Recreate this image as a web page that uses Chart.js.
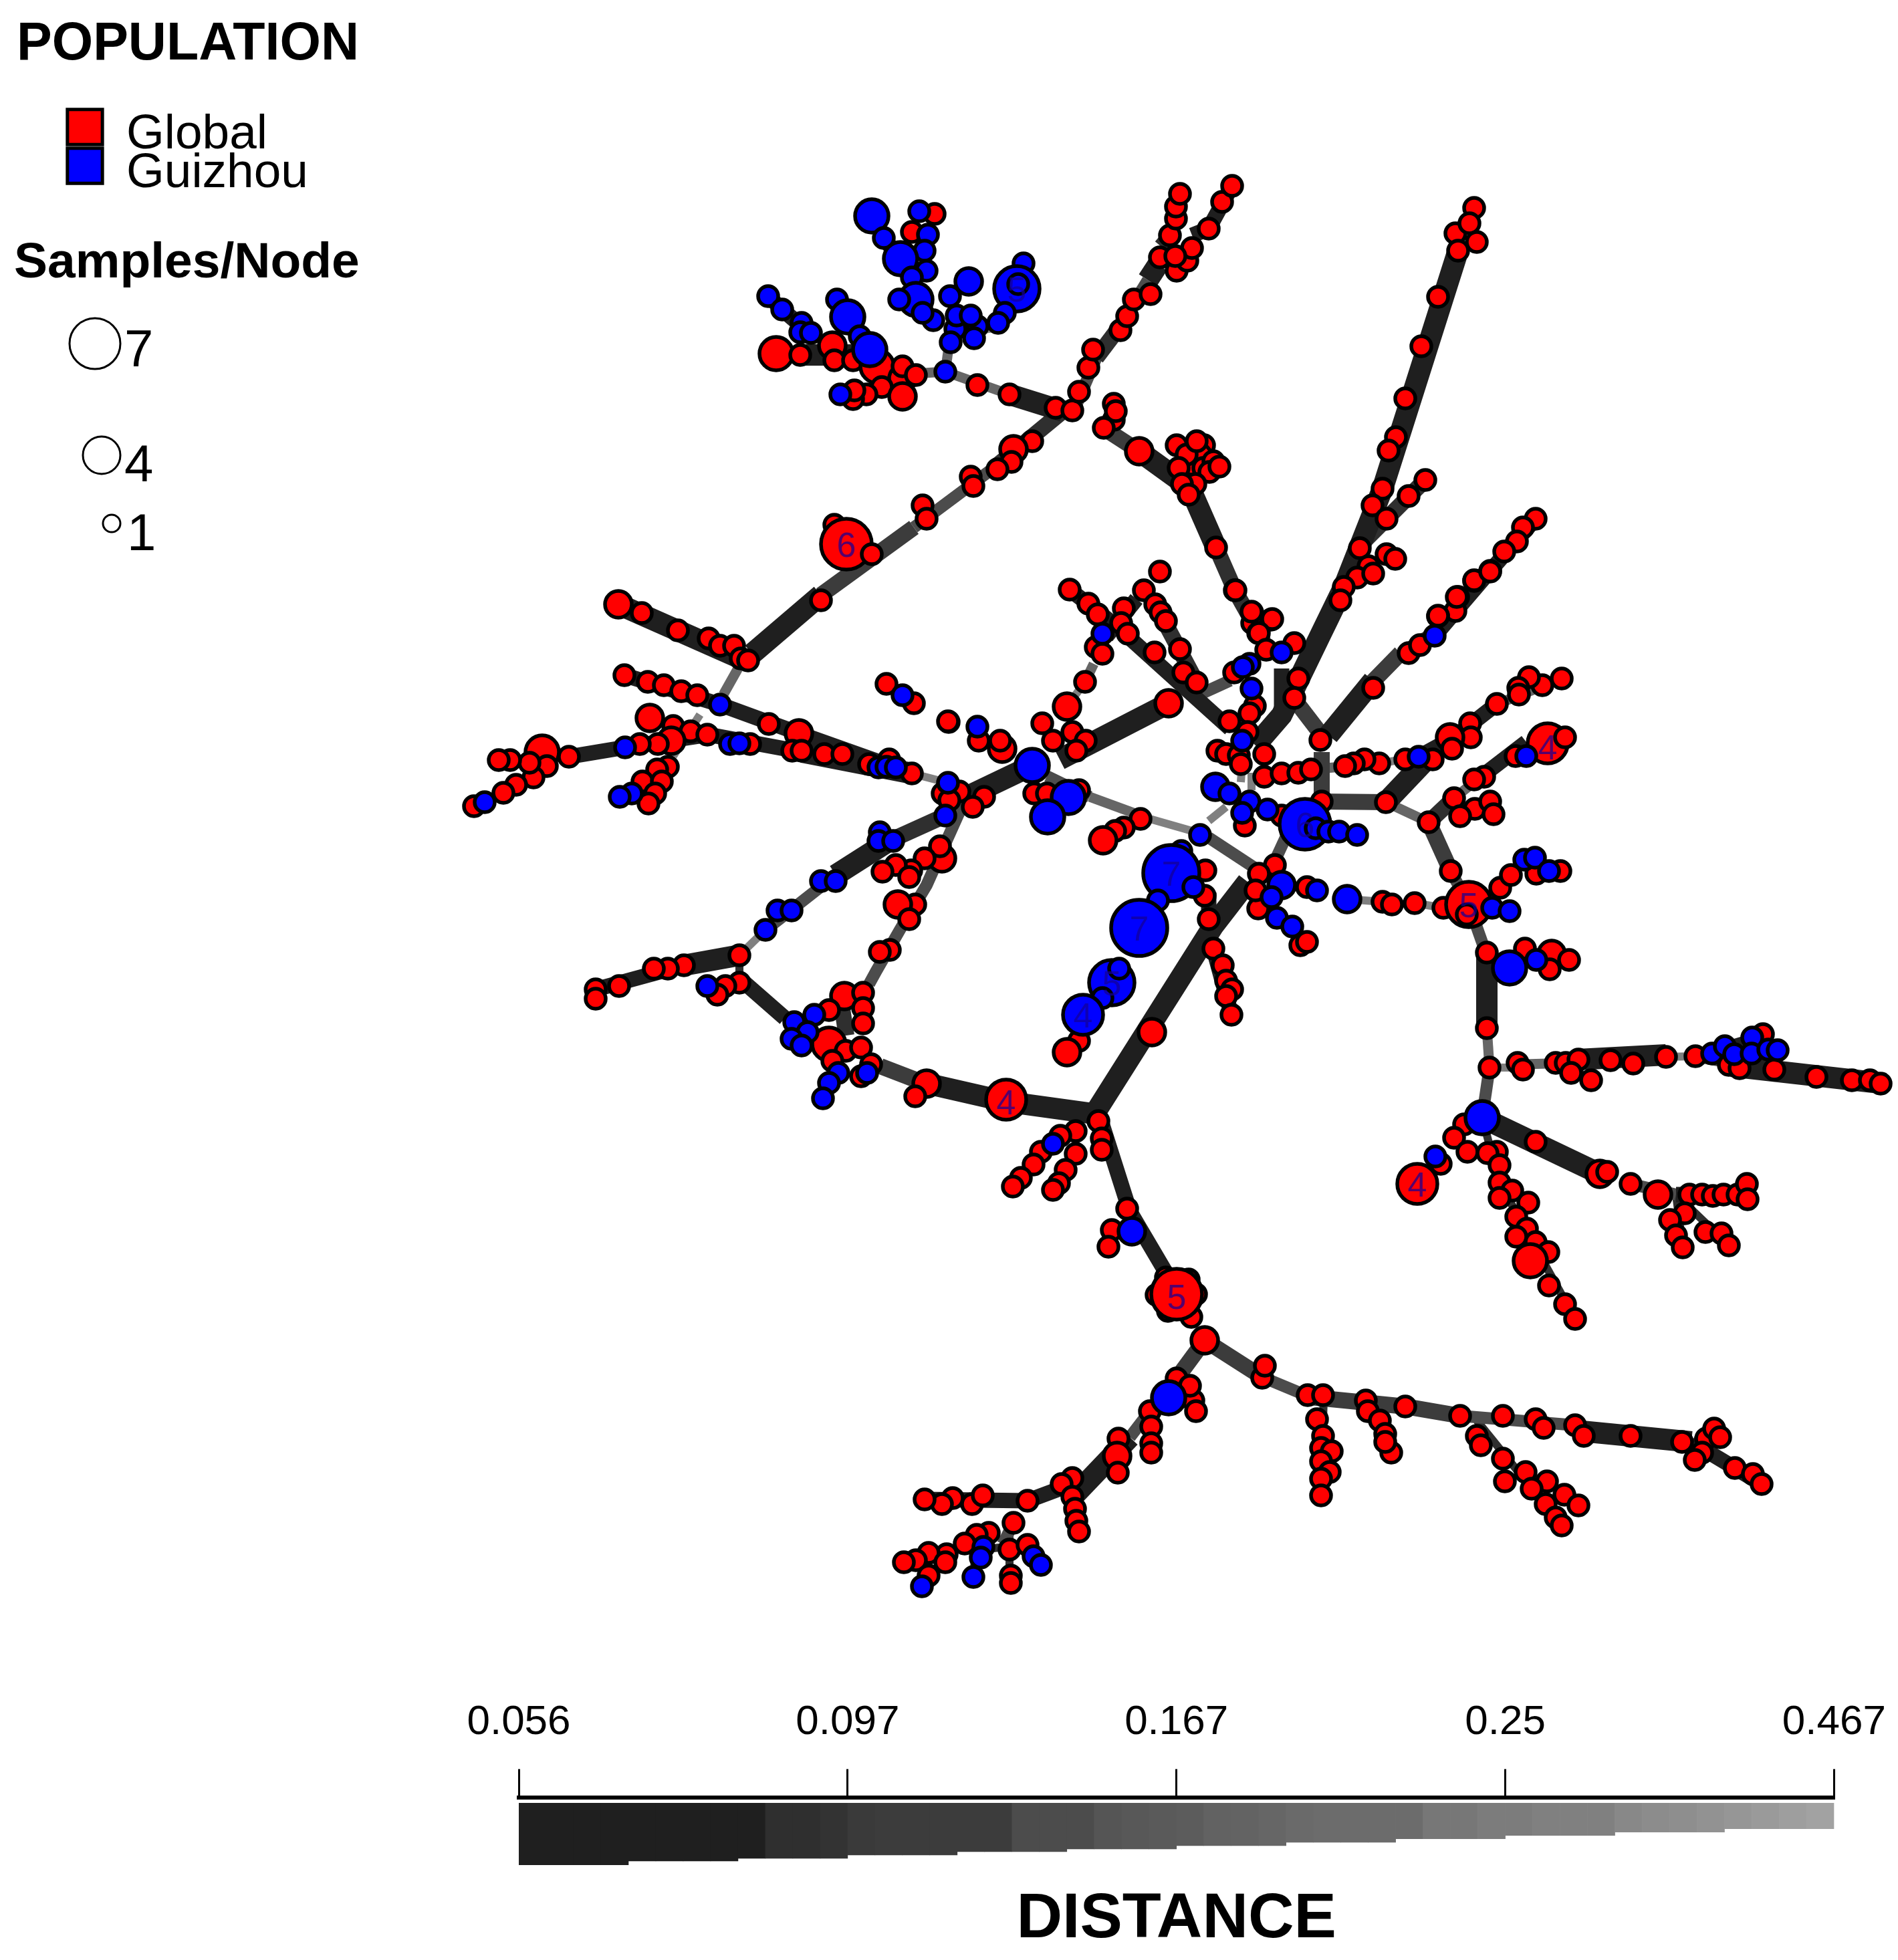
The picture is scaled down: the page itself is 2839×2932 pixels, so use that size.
<!DOCTYPE html>
<html><head><meta charset="utf-8">
<style>html,body{margin:0;padding:0;background:#fff}#w{position:relative;width:2839px;height:2932px;overflow:hidden}canvas{position:absolute;display:block}</style>
<script src="https://cdn.jsdelivr.net/npm/chart.js@4/dist/chart.umd.js"></script></head>
<body><div id="w"><canvas id="net" width="2839" height="2932" style="left:0;top:0;width:2839px;height:2932px"></canvas><canvas id="bar" width="2203" height="432" style="left:650px;top:2500px;width:2203px;height:432px"></canvas></div>
<script>
// Node samples: [x, y, samples per node]
const globalNodes = [
[1161,529,3],[1197,531,1],[1245,517,2],[1248,539,1],[1276,539,1],[1312,548,3],[1350,566,2],[1350,548,1],[1370,561,1],[1319,579,1],[1296,590,1],[1276,597,1],[1278,584,1],[1350,593,2],[1398,320,1],[1364,347,1],
[1462,576,1],[1510,590,1],[1579,610,1],[1604,614,1],[1614,586,1],[1628,550,1],[1635,523,1],[1676,494,1],[1686,473,1],[1696,448,1],[1721,440,1],[1735,385,1],[1760,405,1],[1776,390,1],[1783,371,1],[1750,352,1],[1759,327,1],[1759,309,1],[1765,290,1],[1808,342,1],[1828,302,1],[1843,278,1],[1758,383,1],
[1544,660,1],[1516,672,2],[1513,691,1],[1492,702,1],[1452,713,1],[1456,727,1],[1380,756,1],[1386,776,1],[1248,785,1],[1266,814,6],[1304,829,1],[1228,898,1],
[1666,604,1],[1666,628,1],[1669,615,1],[1651,640,1],[1704,675,2],[1760,666,1],[1801,666,1],[1788,686,3],[1775,680,1],[1800,700,1],[1790,660,1],[1815,690,1],[1809,706,1],[1824,698,1],[1763,700,1],[1788,724,1],[1768,724,1],[1778,740,1],[1819,819,1],[1847,883,1],
[2205,311,1],[2177,349,1],[2198,334,1],[2209,362,1],[2181,375,1],[2151,444,1],[2126,518,1],[2102,596,1],[2088,654,1],[2077,674,1],[2068,731,1],[2053,756,1],[2074,776,1],[2107,742,1],[2132,718,1],[2034,820,1],[2074,829,1],[2087,836,1],[2047,847,1],[2030,864,1],[2054,858,1],[2010,878,1],[2005,898,1],
[2297,776,1],[2278,789,1],[2269,810,1],[2250,825,1],[2229,854,1],[2205,869,1],[2181,893,1],[2177,914,1],[2151,922,1],
[1873,916,1],[1873,932,1],[1901,927,1],[1882,947,1],
[1600,882,1],[1628,903,1],[1642,919,1],[1681,910,1],[1711,883,1],[1735,855,1],[1728,904,1],[1736,916,1],[1744,929,1],[1677,932,1],[1687,948,1],[1639,968,1],[1649,978,1],[1623,1020,1],[1596,1057,2],[1559,1082,1],[1575,1108,1],[1604,1095,1],[1624,1108,1],[1610,1123,1],[1748,1052,2],[1727,976,1],[1765,971,1],[1770,1006,1],[1790,1021,1],
[1848,883,1],[1872,915,1],[1903,926,1],[1883,947,1],[1894,972,1],[1936,962,1],[1846,1006,1],[1942,1015,1],[1936,1044,1],[1877,1056,1],[1869,1067,1],[1839,1079,1],[1866,1095,1],[1821,1123,1],[1834,1128,1],[1853,1130,1],[1891,1128,1],[1856,1143,1],[1891,1162,1],[1917,1157,1],[1942,1156,1],[1961,1151,1],[1975,1107,1],
[2054,1029,1],[2107,977,1],[2124,965,1],[2151,921,1],[2179,893,1],[2205,868,1],[2229,855,1],[2336,1015,1],[2307,1025,1],[2287,1013,1],[2271,1029,1],[2272,1039,1],[2239,1053,1],[2199,1082,1],[2200,1103,1],[2169,1103,2],[2172,1120,1],[2143,1136,1],[2102,1136,1],[2063,1142,1],[2041,1136,1],[2025,1142,1],[2012,1146,1],
[2315,1112,4],[2341,1103,1],[2267,1131,1],[2220,1162,1],[2205,1166,1],[2175,1194,1],[2206,1210,1],[2229,1199,1],[2234,1218,1],[2184,1221,1],[2137,1230,1],[2073,1200,1],[1977,1199,1],
[1499,1120,2],[1496,1108,1],[1464,1108,1],[1419,1080,1],[1547,1187,1],[1566,1187,1],[1614,1182,1],[1706,1225,1],[1681,1238,1],[1668,1243,1],[1650,1257,2],
[1862,1235,1],[1917,1220,1],[1803,1302,1],[1802,1340,1],[1907,1294,1],[1883,1307,1],[1882,1359,1],[1878,1332,1],[1945,1414,1],[1955,1409,1],[1955,1327,1],
[2068,1349,1],[2082,1353,1],[2116,1351,1],[2159,1358,1],[2197,1353,5],[2194,1368,1],[2244,1328,1],[2260,1309,1],[2334,1303,1],[2298,1307,1],[2170,1303,1],
[1808,1375,1],[1815,1419,1],[1829,1444,1],[1834,1467,1],[1843,1480,1],[1834,1490,1],[1842,1518,1],[1723,1544,2],[1614,1557,1],[1596,1574,2],
[2224,1425,1],[2281,1419,1],[2321,1427,2],[2318,1450,1],[2347,1436,1],[2224,1538,1],[2228,1597,1],[2270,1590,1],[2278,1600,1],[2327,1590,1],[2342,1590,1],[2361,1585,1],[2350,1605,1],[2380,1616,1],[2409,1586,1],[2443,1591,1],[2492,1581,1],[2536,1580,1],[2637,1547,1],[2586,1593,1],[2602,1598,1],[2654,1600,1],[2717,1611,1],[2770,1616,1],[2797,1616,1],[2813,1621,1],
[2190,1682,1],[2175,1702,1],[2195,1723,1],[2239,1723,1],[2225,1725,1],[2243,1743,1],[2155,1741,1],[2120,1771,4],[2297,1708,1],[2393,1756,2],[2404,1753,1],[2439,1771,1],[2480,1787,2],[2527,1787,1],[2546,1787,1],[2562,1789,1],[2578,1787,1],[2599,1787,1],[2613,1771,1],[2614,1794,1],[2520,1815,1],[2498,1825,1],[2507,1848,1],[2517,1866,1],[2551,1843,1],[2575,1845,1],[2586,1863,1],
[2243,1769,1],[2262,1781,1],[2243,1792,1],[2286,1799,1],[2268,1820,1],[2284,1838,1],[2268,1850,1],[2297,1858,1],[2316,1873,1],[2289,1886,3],[2317,1923,1],[2341,1951,1],[2356,1973,1],
[925,904,2],[960,917,1],[1014,943,1],[1060,955,1],[1077,966,1],[1098,966,1],[1108,985,1],[1119,988,1],[934,1010,1],[969,1020,1],[993,1025,1],[1019,1034,1],[1043,1040,1],[1150,1083,1],[1195,1097,2],[1185,1123,1],[1199,1123,1],[1233,1128,1],[1260,1128,1],[1300,1143,1],[1330,1136,1],[1364,1157,1],[1410,1187,1],[1435,1184,1],[1420,1197,1],[1472,1192,1],[1455,1207,1],[1326,1023,1],[1367,1052,1],[1418,1079,1],
[972,1074,2],[1007,1086,1],[1033,1094,1],[1058,1099,1],[1004,1108,2],[984,1113,1],[957,1113,1],[1122,1113,1],[999,1147,1],[983,1151,1],[961,1169,1],[990,1169,1],[980,1187,1],[970,1202,1],
[851,1132,1],[811,1125,3],[818,1146,1],[798,1163,1],[792,1141,1],[763,1137,1],[746,1137,1],[772,1174,1],[753,1186,1],[709,1206,1],
[1409,1284,2],[1406,1266,1],[1383,1284,1],[1363,1302,1],[1340,1294,1],[1320,1304,1],[1360,1312,1],[1369,1353,1],[1343,1353,2],[1360,1375,1],[1331,1421,1],[1316,1424,1],[1106,1429,1],[1023,1444,1],[999,1449,1],[978,1449,1],[926,1475,1],[891,1480,1],[891,1494,1],[1106,1470,1],[1085,1475,1],[1073,1488,1],
[1263,1490,2],[1291,1485,1],[1291,1508,1],[1240,1511,1],[1291,1531,1],[1240,1562,3],[1265,1572,1],[1288,1567,1],[1288,1610,1],[1303,1592,1],[1245,1587,1],[1386,1621,2],[1369,1640,1],[1505,1645,4],
[1609,1692,1],[1643,1677,1],[1648,1703,1],[1648,1720,1],[1609,1726,1],[1586,1699,1],[1557,1723,1],[1546,1742,1],[1527,1762,1],[1515,1775,1],[1594,1750,1],[1584,1770,1],[1575,1780,1],[1663,1840,1],[1658,1865,1],[1686,1808,1],
[1744,1911,1],[1778,1914,1],[1730,1937,1],[1789,1936,1],[1747,1961,1],[1782,1970,1],[1760,1936,6],[1802,2005,2],[1888,2061,1],[1892,2043,1],[1760,2062,1],[1785,2095,1],[1789,2111,1],[1780,2073,1],[1720,2111,1],[1722,2134,1],[1722,2159,1],[1722,2173,1],
[1673,2152,1],[1671,2178,2],[1672,2203,1],[1604,2211,1],[1588,2220,1],[1604,2239,1],[1608,2257,1],[1610,2275,1],[1614,2291,1],[1537,2245,1],[1454,2250,1],[1470,2237,1],[1425,2241,1],[1409,2250,1],[1383,2243,1],[1516,2278,1],[1479,2293,1],[1461,2296,1],[1443,2309,1],[1510,2318,1],[1537,2311,1],[1512,2357,1],[1512,2368,1],[1416,2325,1],[1389,2323,1],[1414,2337,1],[1370,2334,1],[1352,2337,1],[1389,2357,1],
[1956,2087,1],[1979,2087,1],[2043,2095,1],[2046,2111,1],[2064,2125,1],[2072,2145,1],[2081,2173,1],[2072,2157,1],[2102,2104,1],[2184,2118,1],[2248,2118,1],[2297,2123,1],[2309,2136,1],[2356,2132,1],[2369,2148,1],[2439,2148,1],[2516,2157,1],[2552,2152,1],[2564,2137,1],[2573,2150,1],[2546,2173,1],[2535,2184,1],[2595,2196,1],[2622,2205,1],[2635,2220,1],
[1970,2123,1],[1979,2148,1],[1976,2166,1],[1992,2171,1],[1976,2186,1],[1989,2202,1],[1976,2212,1],[1976,2237,1],[2209,2148,1],[2215,2162,1],[2248,2182,1],[2251,2216,1],[2282,2202,1],[2314,2216,1],[2291,2227,1],[2340,2236,1],[2312,2250,1],[2361,2252,1],[2327,2270,1],[2336,2282,1]
];
const guizhouNodes = [
[1304,323,3],[1375,316,1],[1388,351,1],[1322,356,1],[1383,375,1],[1347,387,3],[1386,405,1],[1364,415,1],[1449,421,2],[1421,443,1],[1370,448,3],[1345,448,1],[1531,394,1],[1521,432,5],[1523,425,1],[1503,468,1],[1493,483,1],[1462,488,1],[1429,492,1],[1431,472,1],[1396,479,1],[1380,468,1],[1422,512,1],[1457,506,1],[1452,472,1],[1414,556,1],
[1149,443,1],[1170,463,1],[1252,448,1],[1268,474,3],[1199,483,1],[1197,497,1],[1213,498,1],[1286,503,1],[1301,523,3],[1257,590,1],
[1649,948,1],[1917,976,1],[1869,993,1],[1859,998,1],[1872,1030,1],[2146,951,1],[2122,1132,1],[2283,1131,1],[1858,1108,1],[1462,1087,1],[1544,1145,3],[1598,1193,3],[1567,1222,3],
[1818,1177,2],[1839,1187,1],[1869,1199,1],[1858,1216,1],[1896,1211,1],[1952,1233,6],[1968,1239,1],[1987,1244,1],[2003,1244,1],[2030,1249,1],[1795,1249,1],[1767,1273,1],[1752,1306,7],[1785,1327,1],[1732,1347,1],[1704,1388,7],[1663,1470,5],[1674,1449,1],[1649,1493,1],[1620,1518,4],
[1917,1324,2],[1902,1342,1],[1910,1373,1],[1933,1386,1],[1970,1332,1],[2015,1345,2],[2232,1358,1],[2258,1363,1],[2280,1286,1],[2296,1283,1],[2317,1303,1],[2258,1448,3],[2298,1436,1],
[2561,1576,1],[2580,1565,1],[2594,1577,1],[2621,1552,1],[2620,1576,1],[2645,1570,1],[2659,1571,1],[2217,1672,3],[2147,1730,1],
[1077,1054,1],[1314,1148,1],[1326,1147,1],[1340,1148,1],[1418,1171,1],[1414,1220,1],[1350,1040,1],[1092,1113,1],[1106,1112,1],[935,1118,1],[945,1187,1],[927,1192,1],[725,1200,1],
[1316,1245,1],[1314,1258,1],[1336,1258,1],[1228,1318,1],[1250,1318,1],[1163,1362,1],[1184,1362,1],[1145,1391,1],[1058,1475,1],
[1218,1518,1],[1188,1529,1],[1208,1544,1],[1184,1554,1],[1199,1564,1],[1254,1605,1],[1240,1620,1],[1231,1643,1],[1297,1605,1],[1575,1711,1],[1693,1842,2],[1748,2091,3],
[1471,2314,1],[1467,2330,1],[1456,2359,1],[1546,2328,1],[1557,2341,1],[1379,2373,1]
];
// Edges, one array per distance bin, each entry is a polyline x,y,x,y...
const binA = [[1510,590,1590,615],[2181,375,2068,731,2010,878,1974,952,1917,1070,1878,1115],[1228,890,1125,978],[925,904,1108,985],[1704,675,1780,730,1819,819],[2054,1018,1987,1100],[1744,1054,1585,1136],[1866,1319,1815,1385,1636,1668],[1505,1648,1650,1668],[1387,1621,1505,1648],[1200,1125,1364,1157],[2224,1425,2224,1538],[2590,1595,2820,1621],[2360,1585,2492,1578],[2217,1672,2393,1756],[2356,2140,2530,2157],[1330,1258,1250,1309],[1106,1429,1023,1444],[1544,1145,1450,1190],[1197,531,1300,531],[2130,1140,2073,1200],[1690,2150,1604,2240],[1717,419,1732,396]];
const binB = [[1687,952,1840,1090],[1600,882,1687,950],[1700,896,1655,952],[1170,463,1213,500],[1322,356,1370,420],[1149,443,1170,463],[934,1010,1077,1054,1195,1097,1364,1157],[851,1132,935,1118,1060,1099,1200,1125],[891,1480,1023,1444],[1110,1467,1174,1523],[1648,1680,1690,1812,1756,1924],[1808,1335,1808,1400],[1815,1419,1842,1518],[2297,776,2229,854,2146,951],[1843,278,1808,342,1783,352],[1917,1000,1917,1075],[2507,1787,2613,1787],[2530,2157,2635,2220],[1604,2220,1537,2245,1383,2243],[2580,1570,2640,1552],[2205,1170,2283,1110],[2122,1132,2175,1103,2239,1053]];
const binC = [[1590,615,1493,695],[2132,718,2074,776,2040,810],[1819,819,1847,883],[1728,904,1790,1021],[2137,1230,2175,1194],[1414,1220,1330,1258],[1260,1510,1266,1549],[1847,883,1890,960],[1640,535,1671,494],[1737,369,1753,350]];
const binD = [[1367,789,1228,890],[1650,640,1704,675],[1977,1125,1977,1187],[1942,1054,1975,1097],[1977,1199,2073,1200],[2137,1230,2170,1303],[2095,977,2050,1023],[1317,1595,1369,1615],[1802,2005,1888,2060],[1960,2090,2102,2104,2184,2118],[1802,2005,1760,2062]];
const binE = [[1493,695,1367,789],[1604,620,1640,535],[1808,1253,1878,1299],[1783,1044,1840,1018],[1566,1161,1630,1192],[2228,1597,2217,1672],[1250,1309,1185,1360,1145,1391],[1443,1197,1386,1324,1346,1391,1311,1452,1300,1472],[1888,2060,1960,2090],[2184,2118,2356,2132],[1720,2111,1690,2150],[1520,2270,1500,2310],[2536,1580,2590,1590],[2439,1771,2507,1787],[2197,1353,2222,1424],[2146,945,2095,977],[2170,1303,2197,1353],[1923,1253,1904,1294],[1671,494,1717,419]];
const binF = [[1414,556,1510,590],[1414,556,1420,512],[1630,1192,1720,1225],[2073,1200,2137,1230],[2224,1538,2228,1597],[1105,998,1082,1039],[1961,1151,2063,1142],[2336,1015,2240,1053],[2175,1194,2205,1170],[1636,993,1623,1020],[2280,1592,2350,1590],[1350,560,1414,556]];
const binG = [[1720,1225,1783,1243],[1047,1069,1007,1131],[1808,1228,1834,1207],[1872,1156,1872,1182],[1857,1156,1856,1170],[1623,1020,1596,1057],[2228,1597,2280,1597],[2492,1581,2536,1580],[2082,1353,2116,1351,2159,1358],[2015,1345,2068,1349],[2063,1142,2122,1132],[1364,1157,1418,1171],[1145,1391,1106,1429],[1422,500,1493,490],[1960,1330,1917,1324]];
const binH = [[2243,1769,2356,1973],[2209,2125,2336,2282],[1604,2240,1614,2291],[1722,2111,1722,2173],[1980,2090,1976,2237],[2043,2095,2081,2173],[2340,1590,2380,1616],[725,1200,830,1150],[1456,2359,1460,2310],[1450,2320,1540,2310],[1510,2290,1510,2368],[2507,1787,2586,1863],[2507,1787,2517,1866],[2217,1672,2243,1769],[1106,1429,1106,1470]];
// Numbers printed on the larger nodes
const nodeLabels = [[1266,814,'6'],[2315,1117,'4'],[2197,1353,'5'],[1505,1648,'4'],[2120,1771,'4'],[1760,1939,'5'],[1752,1306,'7'],[1704,1388,'7'],[1663,1470,'5'],[1620,1518,'4'],[1952,1233,'6'],[1521,432,'5']];
// Colour-bar data
const distanceTicks = ['0.056','0.097','0.167','0.25','0.467'];
const wedgeHeights = [92,92,92,92,86,86,86,86,82,82,82,82,77,77,77,77,72,72,72,72,68,68,68,68,63,63,63,63,58,58,58,58,53,53,53,53,48,48,48,48,43,43,43,43,38,38,38,38];
const wedgeGreys = [31,31,31,31,31,31,31,31,31,47,47,51,58,60,60,60,60,60,76,76,76,85,88,90,92,98,99,102,106,108,108,108,108,119,119,124,124,128,128,128,136,140,142,146,150,154,158,162];
const populationLegend = [['Global',127,190],['Guizhou',127,248]];
const sizeLegend = [[38,142,514],[28,152,681],[13,167,783]];

const radiusFor = {1:15,2:20,3:25,4:30,5:34,6:38,7:42};
const binStyles = [[binA,'#1f1f1f',32],[binB,'#1f1f1f',23],[binC,'#2f2f2f',24],[binD,'#3c3c3c',24],[binE,'#4c4c4c',18],[binF,'#666666',15],[binG,'#808080',12],[binH,'#2f2f2f',12]];
const datasets = [];
for (const [bin,color,width] of binStyles) for (const path of bin) {
  const data = [];
  for (let i=0;i<path.length;i+=2) data.push({x:path[i],y:path[i+1]});
  datasets.push({data,showLine:true,borderColor:color,borderWidth:width,pointRadius:0,borderCapStyle:'butt',borderJoinStyle:'miter',order:10,tension:0});
}
const nodeSet = (nodes,color,order)=>({data:nodes.map(n=>({x:n[0],y:n[1]})),pointRadius:nodes.map(n=>radiusFor[n[2]]),pointBackgroundColor:color,pointBorderColor:'#000',pointBorderWidth:5.5,showLine:false,order});
datasets.push(nodeSet(globalNodes,'#ff0000',3));
datasets.push(nodeSet(guizhouNodes,'#0000ff',2));
datasets.push({data:populationLegend.map(p=>({x:p[1],y:p[2]})),pointStyle:'rect',pointRadius:37,pointBackgroundColor:['#ff0000','#0000ff'],pointBorderColor:'#000',pointBorderWidth:5,showLine:false,order:1});
datasets.push({data:sizeLegend.map(p=>({x:p[1],y:p[2]})),pointRadius:sizeLegend.map(p=>p[0]),pointBackgroundColor:'#fff',pointBorderColor:'#000',pointBorderWidth:3,showLine:false,order:1});

const textPlugin = {id:'texts',afterDatasetsDraw(chart){
  const c=chart.ctx,sx=chart.scales.x,sy=chart.scales.y;
  const put=(t,x,y,font,color,align)=>{c.font=font;c.fillStyle=color;c.textAlign=align||'left';c.textBaseline='alphabetic';c.fillText(t,sx.getPixelForValue(x),sy.getPixelForValue(y));};
  c.save();
  for(const [x,y,t] of nodeLabels) put(t,x,y+19,'52px "Liberation Sans"','rgba(20,0,150,0.72)','center');
  put('POPULATION',25,89,'bold 79px "Liberation Sans"','#000');
  put('Global',189,222,'73px "Liberation Sans"','#000');
  put('Guizhou',189,280,'73px "Liberation Sans"','#000');
  put('Samples/Node',21,415,'bold 75px "Liberation Sans"','#000');
  put('7',186,548,'78px "Liberation Sans"','#000');
  put('4',186,720,'78px "Liberation Sans"','#000');
  put('1',190,823,'78px "Liberation Sans"','#000');
  c.restore();
}};
new Chart(document.getElementById('net'),{type:'scatter',data:{datasets},plugins:[textPlugin],options:{
  responsive:false,devicePixelRatio:1,animation:false,layout:{padding:0,autoPadding:false},
  plugins:{legend:{display:false},tooltip:{enabled:false}},
  scales:{x:{type:'linear',min:0,max:2839,display:false},y:{type:'linear',min:0,max:2932,reverse:true,display:false}}
}});
new Chart(document.getElementById('bar'),{type:'bar',data:{labels:wedgeHeights.map((_,i)=>i),datasets:[{data:wedgeHeights,backgroundColor:wedgeGreys.map(g=>`rgb(${g},${g},${g})`),barPercentage:1,categoryPercentage:1,borderWidth:0,xAxisID:'x',yAxisID:'y'}]},options:{
  responsive:false,devicePixelRatio:1,animation:false,
  layout:{padding:{left:126,right:81,top:8,bottom:3}},
  plugins:{legend:{display:false},tooltip:{enabled:false}},
  scales:{
    x:{type:'category',position:'bottom',grid:{display:false},border:{display:false},ticks:{display:false},title:{display:true,text:'DISTANCE',color:'#000',font:{family:'"Liberation Sans"',size:95,weight:'bold'},padding:{top:17,bottom:0}}},
    top:{type:'linear',position:'top',axis:'x',min:0,max:4,offset:false,
      afterBuildTicks(s){s.ticks=distanceTicks.map((_,i)=>({value:i}));},
      grid:{display:true,offset:false,drawOnChartArea:false,color:'#000',lineWidth:3,tickLength:43,tickColor:'#000'},
      border:{display:true,color:'#000',width:6},
      ticks:{color:'#000',padding:32,maxRotation:0,autoSkip:false,font:{family:'"Liberation Sans"',size:62},callback:v=>distanceTicks[v]}},
    y:{type:'linear',reverse:true,min:-8,max:92,display:false}
  }}});
</script>
</body></html>
